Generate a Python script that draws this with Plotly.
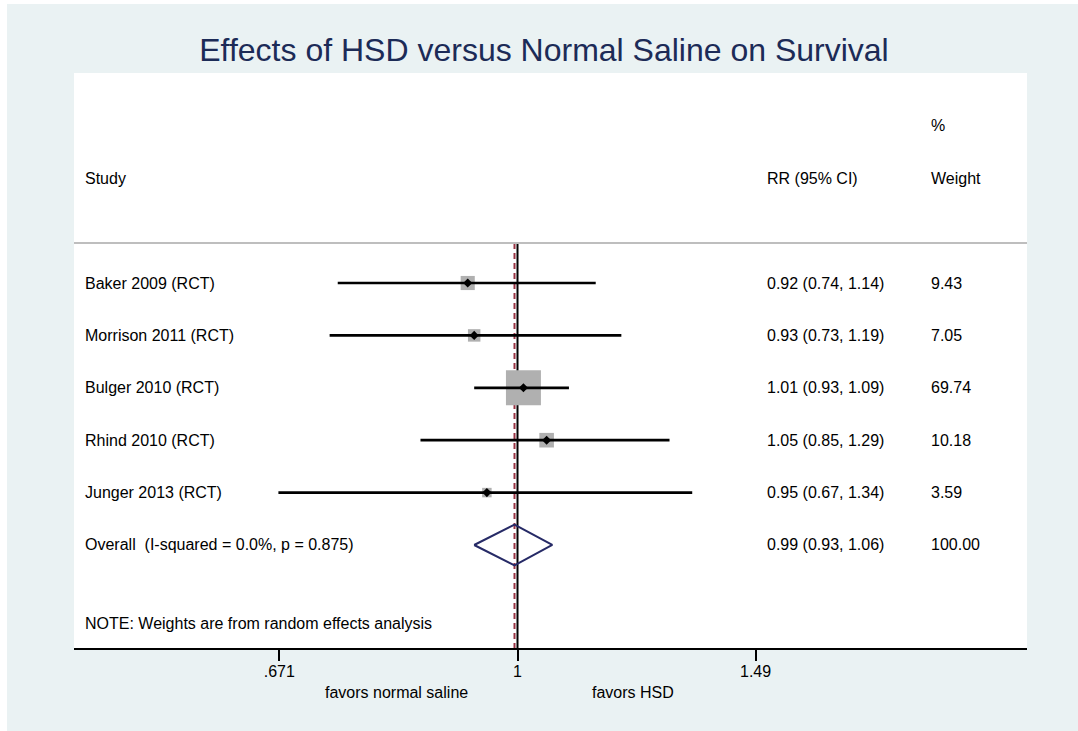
import math
import plotly.graph_objects as go

# ---------------- data ----------------
studies = ["Baker 2009 (RCT)", "Morrison 2011 (RCT)", "Bulger 2010 (RCT)",
           "Rhind 2010 (RCT)", "Junger 2013 (RCT)"]
rr = [0.92, 0.93, 1.01, 1.05, 0.95]
lo = [0.74, 0.73, 0.93, 0.85, 0.67]
hi = [1.14, 1.19, 1.09, 1.29, 1.34]
weights = [9.43, 7.05, 69.74, 10.18, 3.59]
rr_text = ["0.92 (0.74, 1.14)", "0.93 (0.73, 1.19)", "1.01 (0.93, 1.09)",
           "1.05 (0.85, 1.29)", "0.95 (0.67, 1.34)"]
w_text = ["9.43", "7.05", "69.74", "10.18", "3.59"]

overall_label = "Overall\u00a0\u00a0(I-squared = 0.0%, p = 0.875)"
overall_est, overall_lo, overall_hi = 0.995, 0.93, 1.06
overall_text = "0.99 (0.93, 1.06)"
overall_w = "100.00"
note = "NOTE: Weights are from random effects analysis"

tick_vals = [0.671, 1, 1.49]
tick_text = [".671", "1", "1.49"]
left_label, right_label = "favors normal saline", "favors HSD"
title = "Effects of HSD versus Normal Saline on Survival"

# ---------------- layout geometry ----------------
W, H = 1078, 731
L, R, T, B = 74, 51, 73, 83
rows = list(range(1, len(studies) + 1))
overall_row = len(studies) + 1
y_top, y_bot = -3.008, 7.966
header_line_y = 0.237
FONT = "Liberation Sans, Arial, Helvetica, sans-serif"
pw = W - L - R


def px_to_paper_x(px):
    return (px - L) / pw


fig = go.Figure()

# reference lines (x = 1 and overall estimate)
fig.add_trace(go.Scatter(x=[1, 1], y=[header_line_y, y_bot], mode="lines",
                         line=dict(color="black", width=2), hoverinfo="skip"))
fig.add_trace(go.Scatter(x=[overall_est, overall_est], y=[header_line_y, y_bot],
                         mode="lines",
                         line=dict(color="#993344", width=2, dash="6px,4px"),
                         hoverinfo="skip"))

# weight boxes
sizes = [3.95 * math.sqrt(w) + 2.0 for w in weights]
fig.add_trace(go.Scatter(x=rr, y=rows, mode="markers",
                         marker=dict(symbol="square", size=sizes, color="#B0B0B0",
                                     opacity=1, line=dict(width=0)), hoverinfo="skip"))

# CI lines
for r, a, b in zip(rows, lo, hi):
    fig.add_trace(go.Scatter(x=[a, b], y=[r, r], mode="lines",
                             line=dict(color="black", width=2.7), hoverinfo="skip"))

# point estimates
fig.add_trace(go.Scatter(x=rr, y=rows, mode="markers",
                         marker=dict(symbol="diamond", size=7, color="black"),
                         hoverinfo="skip"))

# overall diamond
dh = 0.39
fig.add_trace(go.Scatter(x=[overall_lo, overall_est, overall_hi, overall_est, overall_lo],
                         y=[overall_row, overall_row - dh, overall_row, overall_row + dh, overall_row],
                         mode="lines", line=dict(color="#262A66", width=2),
                         hoverinfo="skip"))

ann = []


def add_text(px, y, text, yref="y"):
    ann.append(dict(x=px_to_paper_x(px), xref="paper", y=y, yref=yref, text=text,
                    showarrow=False, xanchor="left", yanchor="middle",
                    font=dict(family=FONT, size=16, color="black")))


# headers (anchor offset ~2px for annotation padding)
X_STUDY, X_RR, X_W = 83, 765, 929
add_text(X_STUDY, -1, "Study")
add_text(X_RR, -1, "RR (95% CI)")
add_text(X_W, -2, "%")
add_text(X_W, -1, "Weight")

for r, s, t, w in zip(rows, studies, rr_text, w_text):
    add_text(X_STUDY, r, s)
    add_text(X_RR, r, t)
    add_text(X_W, r, w)

add_text(X_STUDY, overall_row, overall_label)
add_text(X_RR, overall_row, overall_text)
add_text(X_W, overall_row, overall_w)
add_text(X_STUDY, 7.49, note)

# favors labels
for cx, txt in [(396, left_label), (633, right_label)]:
    ann.append(dict(x=px_to_paper_x(cx), xref="paper", y=(H - B - 692) / (H - T - B),
                    yref="paper", text=txt, showarrow=False, xanchor="center",
                    yanchor="middle", font=dict(family=FONT, size=16, color="black")))

# x range: map pixel edges through log scale (1 -> 517.5px, 597 px per ln unit)
px_per_ln = 597.0
x_one = 517.5
xr = [((L - x_one) / px_per_ln) / math.log(10),
      ((W - R - x_one) / px_per_ln) / math.log(10)]

shapes = [
    # header separator
    dict(type="line", xref="paper", yref="y", x0=0, x1=1, y0=header_line_y,
         y1=header_line_y, line=dict(color="#BEBEBE", width=2)),
    # white strips at top/left edges of the image
    dict(type="rect", xref="paper", yref="paper", x0=-L / pw - 0.01, x1=px_to_paper_x(7),
         y0=-0.2, y1=1.2, line=dict(width=0), fillcolor="white", layer="below"),
    dict(type="rect", xref="paper", yref="paper", x0=-0.1, x1=1.1,
         y0=(H - B - 4) / (H - T - B), y1=1.2, line=dict(width=0), fillcolor="white",
         layer="below"),
]

fig.update_layout(
    width=W, height=H,
    margin=dict(l=L, r=R, t=T, b=B),
    paper_bgcolor="#EAF2F3", plot_bgcolor="white",
    showlegend=False,
    hovermode=False,
    title=dict(text=title, x=544 / W, xref="container", xanchor="center",
               y=1 - 50 / H, yref="container", yanchor="middle",
               font=dict(family=FONT, size=32, color="#1C2B57")),
    xaxis=dict(type="log", range=xr, tickvals=tick_vals, ticktext=tick_text,
               ticks="outside", ticklen=11, tickwidth=2, tickcolor="black",
               ticklabelstandoff=-3,
               showline=True, linewidth=2, linecolor="black", mirror=False,
               showgrid=False, zeroline=False,
               tickfont=dict(family=FONT, size=16, color="black"), fixedrange=True),
    yaxis=dict(range=[y_bot, y_top], visible=False, showgrid=False, zeroline=False,
               fixedrange=True),
    annotations=ann,
    shapes=shapes,
)

fig.write_html("out.html",
               config={"displayModeBar": False, "staticPlot": True},
               post_script="document.body.style.margin='0px';"
                           "document.body.style.overflow='hidden';")
